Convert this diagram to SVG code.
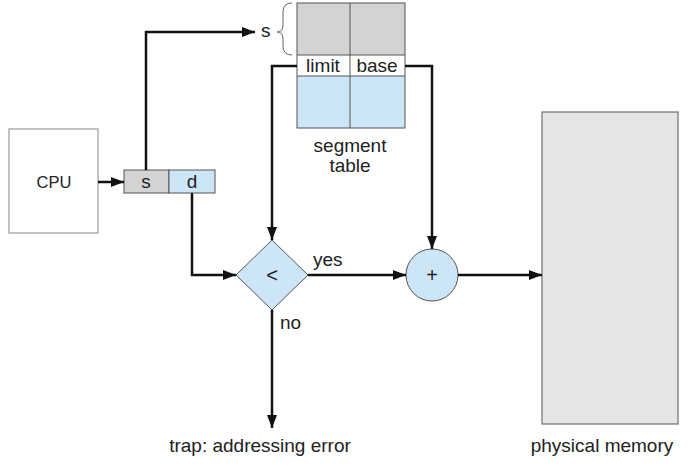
<svg xmlns="http://www.w3.org/2000/svg" width="700" height="472" viewBox="0 0 700 472">
<style>
text{font-family:"Liberation Sans",Arial,sans-serif;fill:#222;}
.lbl{font-size:19px;}
.ctr{text-anchor:middle;}
.ln{fill:none;stroke:#111;stroke-width:2.5;}
.cell{stroke:#555;stroke-width:1;}
.gray{fill:#d2d3d5;}
.blue{fill:#cde6f7;}
</style>
<defs>
<marker id="ah" viewBox="0 0 13 10" refX="13" refY="5" markerWidth="13" markerHeight="10" markerUnits="userSpaceOnUse" orient="auto">
<path d="M0,0 L13,5 L0,10 Z" fill="#111"/>
</marker>
</defs>
<rect width="700" height="472" fill="#fff"/>

<g id="cpu">
<rect x="9" y="129" width="89" height="104" fill="#fff" stroke="#999" stroke-width="1.2"/>
<text x="54" y="188" class="ctr" font-size="16.5">CPU</text>
</g>

<g id="address">
<rect x="124" y="170" width="45" height="23" class="cell gray"/>
<rect x="169" y="170" width="46" height="23" class="cell blue"/>
<text x="146" y="188" class="lbl ctr">s</text>
<text x="192" y="188" class="lbl ctr">d</text>
</g>

<g id="segment-table">
<rect x="297" y="3" width="108" height="52" class="gray"/>
<rect x="297" y="55" width="108" height="21" fill="#fff"/>
<rect x="297" y="76" width="108" height="52" class="blue"/>
<rect x="297" y="3" width="108" height="125" fill="none" stroke="#555" stroke-width="1"/>
<line x1="297" y1="55" x2="405" y2="55" stroke="#555" stroke-width="1"/>
<line x1="297" y1="76" x2="405" y2="76" stroke="#555" stroke-width="1"/>
<line x1="350" y1="3" x2="350" y2="128" stroke="#555" stroke-width="1"/>
<text x="323" y="72" class="lbl ctr">limit</text>
<text x="377" y="72" class="lbl ctr">base</text>
<text x="350" y="152" class="lbl ctr">segment</text>
<text x="350" y="172" class="lbl ctr">table</text>
<path d="M292,3 Q283,3 283,12 L283,25 Q283,32 277,32 Q283,32 283,39 L283,46 Q283,55 292,55" fill="none" stroke="#666" stroke-width="1"/>
<text x="261" y="37" class="lbl">s</text>
</g>

<g id="compare">
<path d="M272,240 L308,275 L272,310 L236,275 Z" class="blue" stroke="#555" stroke-width="1"/>
<text x="272" y="282" class="ctr" font-size="20">&lt;</text>
</g>

<g id="adder">
<circle cx="432" cy="275" r="26" class="blue" stroke="#555" stroke-width="1"/>
<text x="432" y="282" class="ctr" font-size="20">+</text>
</g>

<g id="memory">
<rect x="542" y="112" width="136" height="312" fill="#e5e6e8" stroke="#555" stroke-width="1"/>
<text x="602" y="452" class="lbl ctr">physical memory</text>
</g>

<g id="trap">
<text x="260" y="452" class="lbl ctr">trap: addressing error</text>
</g>

<g id="connectors">
<path d="M98,182 L124,182" class="ln" marker-end="url(#ah)"/>
<path d="M146,170 L146,32 L255,32" class="ln" marker-end="url(#ah)"/>
<path d="M192,193 L192,275 L236,275" class="ln" marker-end="url(#ah)"/>
<path d="M297,66 L272,66 L272,240" class="ln" marker-end="url(#ah)"/>
<path d="M405,66 L432,66 L432,249" class="ln" marker-end="url(#ah)"/>
<path d="M308,275 L406,275" class="ln" marker-end="url(#ah)"/>
<path d="M458,275 L542,275" class="ln" marker-end="url(#ah)"/>
<path d="M272,310 L272,428" class="ln" marker-end="url(#ah)"/>
<text x="313" y="266" class="lbl">yes</text>
<text x="280" y="329" class="lbl">no</text>
</g>
</svg>
